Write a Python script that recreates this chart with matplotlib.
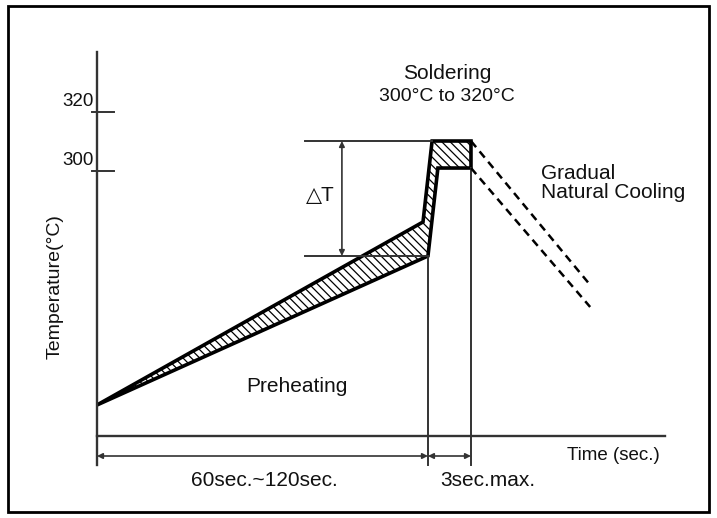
import matplotlib
matplotlib.use("Agg")
import matplotlib.pyplot as plt
from matplotlib.patches import Polygon, Rectangle

plt.rcParams['font.family'] = ['Liberation Sans', 'DejaVu Sans']
plt.rcParams['hatch.linewidth'] = 0.9

# ---- data (schematic time units, temperature in degC) ----
t_start = 0.0
t_kink_upper = 118.2
t_preheat_end = 120.0
t_peak_left = 121.5
t_inner_left = 123.6
t_solder_end = 135.6
t_cool_end = 178.8
t_axis_end = 206.0

T_start = 221.35
T_kink_upper = 282.86
T_preheat_low = 271.43
T_peak_high = 310.08
T_peak_low = 301.0
T_cool_end_high = 261.7
T_cool_end_low = 254.3
T_axis_base = 211.0
T_axis_top = 340.0

ytick_values = [320, 300]
ytick_labels = ["320", "300"]

band_t = [t_start, t_kink_upper, t_peak_left, t_solder_end, t_solder_end, t_inner_left, t_preheat_end]
band_T = [T_start, T_kink_upper, T_peak_high, T_peak_high, T_peak_low, T_peak_low, T_preheat_low]

# ---- figure ----
fig = plt.figure(figsize=(7.17, 5.18), dpi=100)
ax = fig.add_axes([0, 0, 1, 1])
ax.set_xlim(-35.17, 224.8)
ax.set_ylim(183.36, 357.48)
ax.axis('off')

# outer frame
fig.patches.append(Rectangle((8/717, 1-512/518), 701/717, 506/518, transform=fig.transFigure,
                             fill=False, edgecolor='black', linewidth=2.0))

axc = '#333333'
T_dim = 204.2
T_bottom = 201.2

# axes
ax.plot([t_start, t_start], [T_bottom, T_axis_top], color=axc, lw=1.7)
ax.plot([t_start, t_axis_end], [T_axis_base, T_axis_base], color=axc, lw=1.7)

# y ticks
for v, lab in zip(ytick_values, ytick_labels):
    ax.plot([-1.9, 6.2], [v, v], color=axc, lw=1.4)
    ax.text(-1.2, v + 0.6, lab, ha='right', va='bottom', fontsize=13.5, color='#111111')

# vertical guide lines
ax.plot([t_preheat_end, t_preheat_end], [T_bottom, T_preheat_low], color=axc, lw=1.4)
ax.plot([t_solder_end, t_solder_end], [T_bottom, T_peak_low], color=axc, lw=1.4)

# delta T guide lines
ax.plot([75.4, t_peak_left], [T_peak_high, T_peak_high], color=axc, lw=1.4)
ax.plot([75.4, t_preheat_end], [T_preheat_low, T_preheat_low], color=axc, lw=1.4)

# band
band = Polygon(list(zip(band_t, band_T)), closed=True, facecolor='white',
               edgecolor='black', hatch='\\\\\\\\', linewidth=2.6, joinstyle='miter')
ax.add_patch(band)

# cooling dashed lines
ax.plot([t_solder_end, t_cool_end], [T_peak_high, T_cool_end_high], color='black', lw=1.8,
        linestyle=(0, (3.2, 2.2)))
ax.plot([t_solder_end, t_cool_end], [T_peak_low, T_cool_end_low], color='black', lw=1.8,
        linestyle=(0, (3.2, 2.2)))

# arrows
arrow_kw = dict(arrowstyle='<|-|>', color=axc, lw=1.2, mutation_scale=8, shrinkA=0, shrinkB=0)
ax.annotate('', xy=(88.8, T_peak_high), xytext=(88.8, T_preheat_low), arrowprops=arrow_kw)
ax.annotate('', xy=(t_start, T_dim), xytext=(t_preheat_end, T_dim), arrowprops=arrow_kw)
ax.annotate('', xy=(t_preheat_end, T_dim), xytext=(t_solder_end, T_dim), arrowprops=arrow_kw)

# texts
tc = '#111111'
ax.text(-15.2, 261.3, "Temperature(°C)", rotation=90, ha='center', va='center', fontsize=14, color=tc)
ax.text(126.9, 332.9, "Soldering", ha='center', va='center', fontsize=15, color=tc)
ax.text(126.9, 324.9, "300°C to 320°C", ha='center', va='center', fontsize=14, color=tc)
ax.text(161.0, 299.3, "Gradual", ha='left', va='center', fontsize=15, color=tc)
ax.text(161.0, 292.9, "Natural Cooling", ha='left', va='center', fontsize=15, color=tc)
ax.text(80.9, 291.6, "△T", ha='center', va='center', fontsize=15, color=tc)
ax.text(72.5, 227.4, "Preheating", ha='center', va='center', fontsize=15, color=tc)
ax.text(187.1, 204.5, "Time (sec.)", ha='center', va='center', fontsize=13.5, color=tc)
ax.text(60.6, 196.1, "60sec.~120sec.", ha='center', va='center', fontsize=15, color=tc)
ax.text(141.8, 196.1, "3sec.max.", ha='center', va='center', fontsize=15, color=tc)

fig.savefig("out.png", dpi=100)
